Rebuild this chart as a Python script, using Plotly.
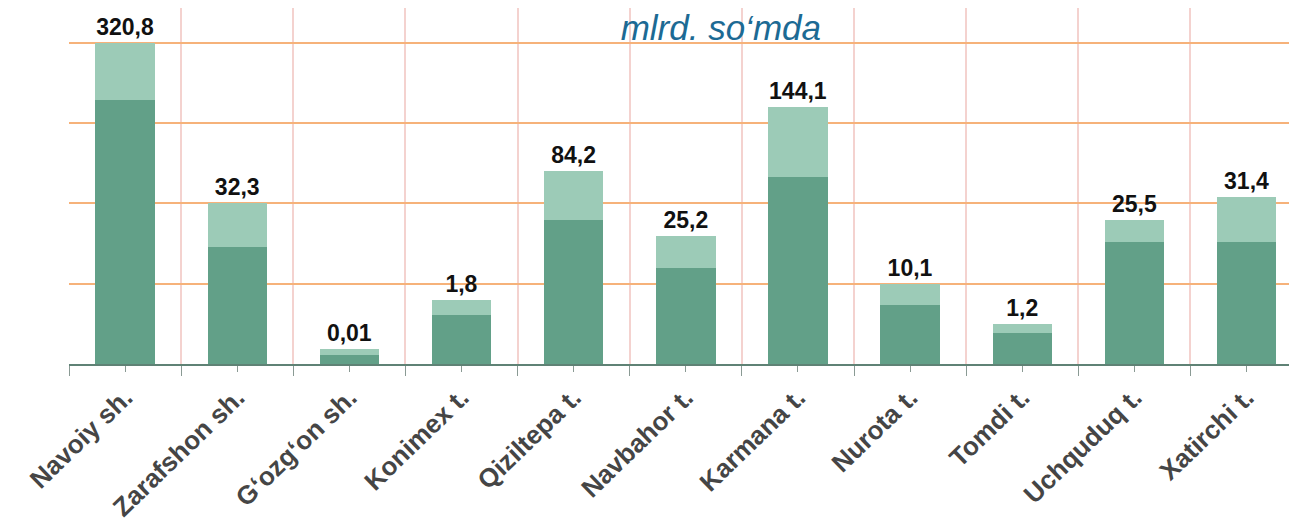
import plotly.graph_objects as go

# Hududlar
categories = ["Navoiy sh.", "Zarafshon sh.", "G‘ozg‘on sh.", "Konimex t.", "Qiziltepa t.",
              "Navbahor t.", "Karmana t.", "Nurota t.", "Tomdi t.", "Uchquduq t.", "Xatirchi t."]
# Ko'rsatilgan qiymatlar, mlrd. so'm
values = [320.8, 32.3, 0.01, 1.8, 84.2, 25.2, 144.1, 10.1, 1.2, 25.5, 31.4]
# Rasmdagi ustun balandliklari (infografika masshtabi, qiymatga proporsional emas)
bar_height = [321, 161, 15, 64, 193, 128, 257, 80, 40, 144, 167]
body_height = [264, 117, 9, 49, 144, 96, 187, 59, 31, 122, 122]
grid_levels = [80, 161, 241, 321]

cap_height = [t - b for t, b in zip(bar_height, body_height)]
labels = [f"{v:g}".replace(".", ",") for v in values]
x = list(range(len(categories)))

FONT = "Liberation Sans, Arial, sans-serif"

fig = go.Figure()
fig.add_trace(go.Bar(
    x=x, y=body_height,
    marker=dict(color="#62a088", line=dict(width=0)),
    hoverinfo="skip"
))
fig.add_trace(go.Bar(
    x=x, y=cap_height,
    marker=dict(color="#9ccbb7", line=dict(width=0)),
    text=labels,
    textposition="outside",
    textfont=dict(family=FONT, size=23, color="#111111", weight="bold"),
    cliponaxis=False,
    hovertemplate="%{text}<extra></extra>"
))

# sahifa body ichida 8px chekinish bilan chiziladi
fig.update_layout(
    barmode="stack",
    bargap=0.47,
    showlegend=False,
    width=1289, height=522,
    margin=dict(l=61, r=0, t=0, b=166, autoexpand=False),
    plot_bgcolor="white",
    paper_bgcolor="white",
    title=dict(
        text="mlrd. so‘mda",
        font=dict(family=FONT, size=35, color="#1c6a94", style="italic"),
        x=0.553, xanchor="center", xref="container",
        y=0.962, yanchor="middle", yref="container"
    )
)

fig.update_xaxes(
    range=[-0.5, 10.45],
    automargin=False,
    tickmode="array", tickvals=x, ticktext=categories,
    tickangle=-44,
    tickfont=dict(family=FONT, size=26, color="#454545", weight="bold"),
    showgrid=False,
    showline=True, linecolor="#5f8275", linewidth=2,
    ticks="outside", ticklen=6, tickcolor="#8a9a94", tickwidth=1,
    minor=dict(tick0=-0.5, dtick=1, showgrid=True, gridcolor="#f4d2cf", gridwidth=1.5,
               ticks="outside", ticklen=10, tickcolor="#8a9a94"),
    zeroline=False
)

fig.update_yaxes(
    range=[0, 356],
    automargin=False,
    tickmode="array", tickvals=grid_levels,
    showticklabels=False,
    showgrid=True, gridcolor="#f6b27a", gridwidth=1.5,
    zeroline=False, showline=False
)

fig.write_html("out.html")
